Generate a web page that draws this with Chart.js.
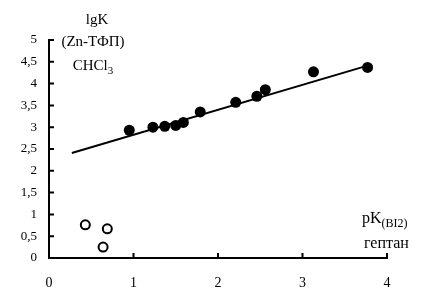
<!DOCTYPE html>
<html><head><meta charset="utf-8">
<script src="https://cdn.jsdelivr.net/npm/chart.js@4/dist/chart.umd.min.js"></script>
<style>html,body{margin:0;padding:0;background:#fff}canvas{display:block}</style>
</head><body>
<canvas id="c" width="421" height="301"></canvas>
<script>
// Filled points: pK(BI2) in heptane vs lgK (Zn-TPP, CHCl3)
const filledX = [0.95, 1.23, 1.37, 1.50, 1.59, 1.79, 2.21, 2.46, 2.56, 3.13, 3.77];
const filledY = [2.93, 3.00, 3.02, 3.04, 3.11, 3.35, 3.57, 3.71, 3.86, 4.27, 4.37];
// Open points
const openX = [0.43, 0.69, 0.64];
const openY = [0.76, 0.67, 0.25];
// Trend line endpoints
const lineX = [0.27, 3.75];
const lineY = [2.41, 4.40];
// Axis ticks
const xTicks = [0, 1, 2, 3, 4];
const yTicks = [0, 0.5, 1, 1.5, 2, 2.5, 3, 3.5, 4, 4.5, 5];

const SERIF = '"Liberation Serif", "DejaVu Serif", serif';

const zip = (xs, ys) => xs.map((x, i) => ({x, y: ys[i]}));
const fmt = v => String(v).replace('.', ',');

const innerTicks = {
  id: 'innerTicks',
  afterDraw(chart) {
    const ctx = chart.ctx, a = chart.chartArea;
    const xs = chart.scales.x, ys = chart.scales.y;
    ctx.save();
    ctx.strokeStyle = '#000'; ctx.lineWidth = 2;
    ctx.beginPath();
    xTicks.forEach(v => { const p = xs.getPixelForValue(v); if (v !== 0) { ctx.moveTo(p, a.bottom); ctx.lineTo(p, a.bottom - 5); } });
    yTicks.forEach(v => { const p = ys.getPixelForValue(v); if (v !== 0) { ctx.moveTo(a.left, p); ctx.lineTo(a.left + 5, p); } });
    ctx.stroke();
    // annotation texts
    ctx.fillStyle = '#000';
    ctx.textBaseline = 'alphabetic';
    ctx.textAlign = 'center';
    ctx.font = '15px ' + SERIF;
    ctx.fillText('lgK', 97, 24);
    ctx.fillText('(Zn-ТФП)', 93, 46);
    // CHCl3
    ctx.textAlign = 'left';
    const t1 = 'CHCl';
    const w1 = ctx.measureText(t1).width;
    ctx.font = '11px ' + SERIF;
    const w2 = ctx.measureText('3').width;
    const sx = 93 - (w1 + w2) / 2;
    ctx.font = '15px ' + SERIF;
    ctx.fillText(t1, sx, 70);
    ctx.font = '11px ' + SERIF;
    ctx.fillText('3', sx + w1, 74);
    // pK(BI2)
    ctx.font = '16px ' + SERIF;
    ctx.fillText('pK', 362, 223);
    const wp = ctx.measureText('pK').width;
    ctx.font = '12px ' + SERIF;
    ctx.fillText('(BI2)', 362 + wp, 227);
    ctx.font = '16px ' + SERIF;
    ctx.fillText('гептан', 364, 248);
    ctx.restore();
  }
};

new Chart(document.getElementById('c'), {
  type: 'scatter',
  data: {
    datasets: [
      { data: zip(lineX, lineY), showLine: true, borderColor: '#000', borderWidth: 2, pointRadius: 0, backgroundColor: '#000' },
      { data: zip(filledX, filledY), pointRadius: 5.5, pointBackgroundColor: '#000', pointBorderColor: '#000', pointBorderWidth: 0 },
      { data: zip(openX, openY), pointRadius: 4.5, pointBackgroundColor: '#fff', pointBorderColor: '#000', pointBorderWidth: 2 }
    ]
  },
  options: {
    responsive: false, animation: false,
    layout: { padding: { left: 0, top: 40, right: 34, bottom: 0 } },
    plugins: { legend: { display: false }, tooltip: { enabled: false } },
    scales: {
      x: {
        type: 'linear', min: 0, max: 4,
        afterFit: s => { s.height = 43; },
        afterBuildTicks: s => { s.ticks = xTicks.map(v => ({value: v})); },
        grid: { display: false, drawTicks: false },
        border: { display: true, color: '#000', width: 2 },
        ticks: { color: '#000', padding: 17, maxRotation: 0, font: { family: SERIF, size: 14 }, callback: fmt }
      },
      y: {
        type: 'linear', min: 0, max: 5,
        afterFit: s => { s.width = 49; },
        afterBuildTicks: s => { s.ticks = yTicks.map(v => ({value: v})); },
        grid: { display: false, drawTicks: false },
        border: { display: true, color: '#000', width: 2 },
        ticks: { color: '#000', padding: 12, font: { family: SERIF, size: 13 }, callback: fmt }
      }
    }
  },
  plugins: [innerTicks]
});
</script>
</body></html>
